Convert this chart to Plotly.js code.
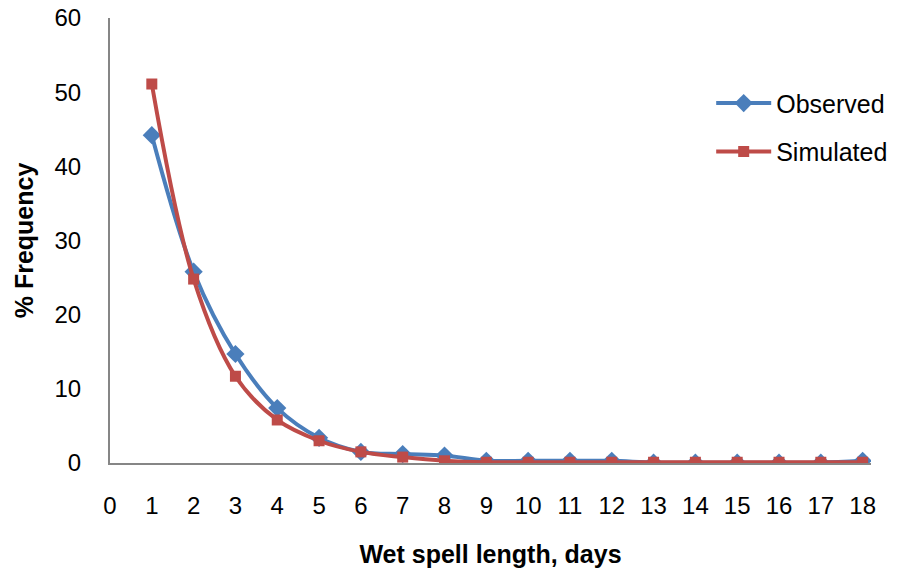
<!DOCTYPE html>
<html>
<head>
<meta charset="utf-8">
<script src="https://cdn.plot.ly/plotly-3.0.1.min.js"></script>
<style>html,body{margin:0;padding:0;background:#fff;}#chart{width:899px;height:573px;}</style>
</head>
<body>
<div id="chart"></div>
<script>
var days = [1,2,3,4,5,6,7,8,9,10,11,12,13,14,15,16,17,18];
var observed = [44.2,25.8,14.7,7.4,3.4,1.5,1.2,1.0,0.3,0.3,0.3,0.3,0.05,0.05,0.05,0.05,0.05,0.3];
var simulated = [51.1,24.8,11.7,5.8,3.0,1.5,0.8,0.3,0.1,0.1,0.1,0.1,0.1,0.1,0.1,0.1,0.1,0.1];
var xTicks = [0,1,2,3,4,5,6,7,8,9,10,11,12,13,14,15,16,17,18];
var yTicks = [0,10,20,30,40,50,60];

var font = "Liberation Sans, Arial, sans-serif";
var traces = [
  {x: days, y: observed, name: "Observed", type: "scatter", mode: "lines+markers", legendgroup: "a",
   line: {color: "#4A7EBB", width: 4, shape: "spline", smoothing: 1},
   marker: {symbol: "diamond", size: 14, color: "#4A7EBB"}},
  {x: days, y: simulated, name: "Simulated", type: "scatter", mode: "lines+markers", legendgroup: "b",
   line: {color: "#BE4B48", width: 4, shape: "spline", smoothing: 1},
   marker: {symbol: "square", size: 11, color: "#BE4B48"}}
];
var layout = {
  width: 899, height: 573,
  margin: {l: 110, r: 28, t: 18, b: 110, autoexpand: false},
  paper_bgcolor: "#fff", plot_bgcolor: "#fff",
  font: {family: font, size: 24, color: "#000"},
  showlegend: true,
  legend: {x: 0.79, y: 0.86, xanchor: "left", yanchor: "top", itemwidth: 55,
           traceorder: "grouped", tracegroupgap: 13,
           font: {family: font, size: 25, color: "#000"}, bgcolor: "rgba(0,0,0,0)"},
  xaxis: {range: [0, 18.2], tickvals: xTicks, ticktext: xTicks.map(String),
          showgrid: false, zeroline: false, showline: true, linecolor: "#868686", linewidth: 2,
          ticks: "", ticklabelstandoff: 20, tickfont: {size: 24}, automargin: false,
          title: {text: "<b>Wet spell length, days</b>", font: {family: font, size: 25, color: "#000"}, standoff: 28}},
  yaxis: {range: [0, 60], tickvals: yTicks, ticktext: yTicks.map(String),
          showgrid: false, zeroline: false, showline: true, linecolor: "#868686", linewidth: 2,
          ticks: "", ticklabelstandoff: 22, tickfont: {size: 24}, automargin: false,
          title: {text: "<b>% Frequency</b>", font: {family: font, size: 25, color: "#000"}, standoff: 14}}
};
Plotly.newPlot("chart", traces, layout, {displayModeBar: false, staticPlot: true});
</script>
</body>
</html>
